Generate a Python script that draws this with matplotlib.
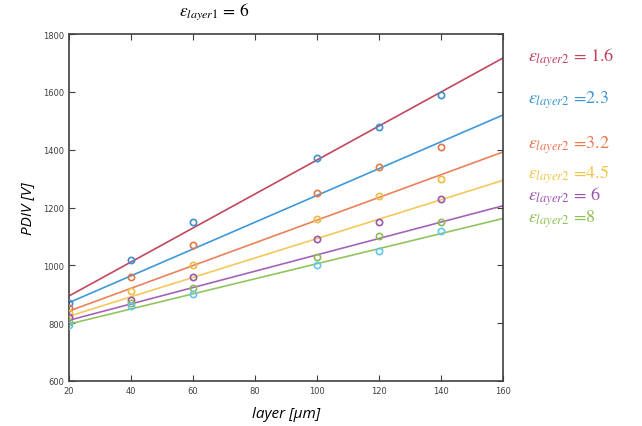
import matplotlib.pyplot as plt

plt.rcParams['mathtext.fontset'] = 'stix'

# layer thickness [um] where PDIV was measured
layer = [20, 40, 60, 100, 120, 140]

# measured PDIV [V], one list per eps_layer2
pdiv_16 = [870, 1020, 1150, 1370, 1480, 1590]
pdiv_23 = [851, 960, 1070, 1250, 1340, 1410]
pdiv_32 = [834, 910, 1000, 1160, 1240, 1300]
pdiv_45 = [823, 880, 960, 1090, 1150, 1230]
pdiv_6 = [805, 870, 920, 1030, 1100, 1150]
pdiv_8 = [792, 860, 900, 1000, 1050, 1120]

# fitted lines, read at both ends of the x range
fit_x = [20, 160]
fit_16 = [894, 1717]
fit_23 = [871, 1520]
fit_32 = [842, 1392]
fit_45 = [824, 1294]
fit_6 = [810, 1206]
fit_8 = [797, 1162]

labels = ['1.6', '2.3', '3.2', '4.5', '6', '8']
label_sep = [' = ', ' =', ' =', ' =', ' = ', ' =']

marker_colors = ['#3f8fd0', '#e0774a', '#f0bb45', '#9a58ad', '#8cbb55', '#62c6ef']
line_colors = ['#c0475e', '#3f98d8', '#e8825a', '#f5c85a', '#a462b8', '#92c45e']
text_colors = ['#c0405e', '#3a95d5', '#e8764e', '#f2c240', '#9a52b0', '#8cc04e']
text_y = [0.866, 0.766, 0.660, 0.592, 0.539, 0.486]

series = [pdiv_16, pdiv_23, pdiv_32, pdiv_45, pdiv_6, pdiv_8]
fits = [fit_16, fit_23, fit_32, fit_45, fit_6, fit_8]

fig = plt.figure(figsize=(6.42, 4.27), dpi=100)
ax = fig.add_axes([0.1075, 0.1054, 0.676, 0.8126])

for i in range(len(series)):
    ax.plot(fit_x, fits[i], color=line_colors[i], lw=1.2, zorder=2)
for i in range(len(series)):
    ax.plot(layer, series[i], 'o', mfc='none', mec=marker_colors[i], ms=4.5, mew=1.2, zorder=3)

ax.set_xlim(20, 160)
ax.set_ylim(600, 1800)
ax.set_xticks(range(20, 161, 20))
ax.set_yticks(range(600, 1801, 200))
ax.tick_params(direction='in', top=True, right=True, labelsize=6, colors='#404040', length=4, width=0.8)
for s in ax.spines.values():
    s.set_color('#404040')
    s.set_linewidth(1.2)

ax.set_xlabel('layer [\u03bcm]', fontsize=11, fontstyle='italic', family='Open Sans', labelpad=8)
ax.set_ylabel('PDIV [V]', fontsize=11, fontstyle='italic', family='Open Sans', labelpad=6)
fig.text(0.334, 0.972, r'$\varepsilon_{layer1}$ = 6', fontsize=12.5, ha='center', va='center',
         family='STIXGeneral')

for i in range(len(labels)):
    fig.text(0.822, text_y[i], r'$\varepsilon_{layer2}$' + label_sep[i] + labels[i], fontsize=13,
             color=text_colors[i], family='STIXGeneral', va='center')

fig.savefig('out.png', dpi=100)
